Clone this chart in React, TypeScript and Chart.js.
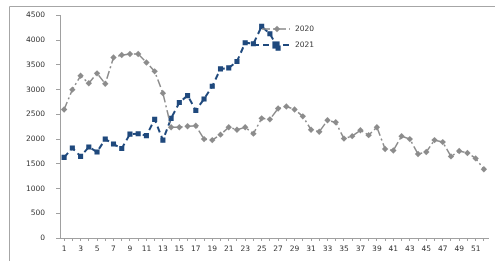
import React, { useEffect, useRef } from "react";
import { Chart, registerables } from "chart.js";

Chart.register(...registerables);

const weeks: string[] = Array.from({ length: 52 }, (_, i) => String(i + 1));

const series2020: number[] = [
  2600, 3000, 3280, 3130, 3330, 3120, 3650, 3700, 3720, 3720,
  3550, 3370, 2930, 2240, 2240, 2260, 2270, 2000, 1980, 2090,
  2240, 2190, 2240, 2110, 2420, 2400, 2620, 2660, 2600, 2460,
  2190, 2150, 2380, 2340, 2010, 2060, 2180, 2080, 2240, 1800,
  1770, 2060, 2000, 1700, 1740, 1980, 1940, 1650, 1760, 1720,
  1610, 1390,
];

const series2021: (number | null)[] = [
  1630, 1820, 1650, 1840, 1740, 2000, 1900, 1810, 2100, 2110,
  2070, 2400, 1980, 2420, 2740, 2880, 2580, 2810, 3070, 3420,
  3440, 3570, 3950, 3930, 4280, 4130, 3840,
];

const seriesNames: string[] = ["2020", "2021"];
const yTicks: number[] = [0, 500, 1000, 1500, 2000, 2500, 3000, 3500, 4000, 4500];

const GRAY = "#8c8c8c";
const BLUE = "#1f497d";
const TEXT = "#333333";
const AXIS = "#a0a0a0";
const FONT = "'DejaVu Sans', Verdana, sans-serif";

const framePlugin = {
  id: "frame",
  beforeDraw(chart: any) {
    const ctx = chart.ctx;
    ctx.save();
    ctx.strokeStyle = "#a6a6a6";
    ctx.lineWidth = 1;
    ctx.beginPath();
    ctx.moveTo(9.5, 261);
    ctx.lineTo(9.5, 6.5);
    ctx.lineTo(495, 6.5);
    ctx.stroke();
    ctx.restore();
  },
};

const legendPlugin = {
  id: "customLegend",
  afterDraw(chart: any) {
    const ctx = chart.ctx;
    const items = [
      { ds: 0, x1: 262, x2: 290, mx: 277, y: 29 },
      { ds: 1, x1: 253, x2: 292, mx: 276, y: 45 },
    ];
    ctx.save();
    items.forEach((it) => {
      const ds = chart.data.datasets[it.ds];
      ctx.strokeStyle = ds.borderColor;
      ctx.lineWidth = ds.borderWidth;
      ctx.setLineDash(ds.borderDash || []);
      ctx.beginPath();
      ctx.moveTo(it.x1, it.y);
      ctx.lineTo(it.x2, it.y);
      ctx.stroke();
      ctx.setLineDash([]);
      ctx.fillStyle = ds.pointBackgroundColor;
      const r = ds.pointRadius;
      ctx.beginPath();
      if (ds.pointStyle === "rectRot") {
        ctx.moveTo(it.mx, it.y - r);
        ctx.lineTo(it.mx + r, it.y);
        ctx.lineTo(it.mx, it.y + r);
        ctx.lineTo(it.mx - r, it.y);
        ctx.closePath();
      } else {
        ctx.rect(it.mx - r, it.y - r, 2 * r, 2 * r);
      }
      ctx.fill();
      ctx.fillStyle = TEXT;
      ctx.font = `7.5px ${FONT}`;
      ctx.textBaseline = "middle";
      ctx.textAlign = "left";
      ctx.fillText(ds.label, 295, it.y);
    });
    ctx.restore();
  },
};

export default function App() {
  const ref = useRef<HTMLCanvasElement | null>(null);

  useEffect(() => {
    if (!ref.current) return;
    const chart = new Chart(ref.current, {
      type: "line",
      data: {
        labels: weeks,
        datasets: [
          {
            label: seriesNames[0],
            data: series2020,
            borderColor: GRAY,
            backgroundColor: GRAY,
            pointBackgroundColor: GRAY,
            pointBorderColor: GRAY,
            borderWidth: 1.5,
            borderDash: [8, 3, 2, 3],
            pointStyle: "rectRot",
            pointRadius: 3.2,
            pointBorderWidth: 0,
            tension: 0,
          },
          {
            label: seriesNames[1],
            data: series2021,
            borderColor: BLUE,
            backgroundColor: BLUE,
            pointBackgroundColor: BLUE,
            pointBorderColor: BLUE,
            borderWidth: 2,
            borderDash: [6, 4],
            pointStyle: "rect",
            pointRadius: 3.6,
            pointBorderWidth: 0,
            tension: 0,
          },
        ] as any,
      },
      options: {
        responsive: false,
        animation: false,
        devicePixelRatio: 1,
        layout: { padding: { left: 0, top: 15, right: 7, bottom: 0 } },
        plugins: {
          legend: { display: false },
          tooltip: { enabled: false },
        },
        scales: {
          x: {
            offset: true,
            grid: {
              display: true,
              drawOnChartArea: false,
              drawTicks: true,
              tickLength: 3,
              color: AXIS,
              offset: false,
            },
            border: { display: true, color: AXIS, width: 1 },
            ticks: {
              autoSkip: false,
              maxRotation: 0,
              minRotation: 0,
              padding: 4,
              color: TEXT,
              font: { family: FONT, size: 7.5 },
              callback: (_v: any, i: number) => (i % 2 === 0 ? weeks[i] : ""),
            },
            afterFit: (s: any) => {
              s.height = 23;
            },
          },
          y: {
            min: 0,
            max: 4500,
            afterBuildTicks: (s: any) => {
              s.ticks = yTicks.map((v) => ({ value: v }));
            },
            grid: {
              display: true,
              drawOnChartArea: false,
              drawTicks: true,
              tickLength: 4,
              color: AXIS,
            },
            border: { display: true, color: AXIS, width: 1 },
            ticks: {
              padding: 11,
              color: TEXT,
              font: { family: FONT, size: 7.5 },
              callback: (v: any) => String(v),
            },
            afterFit: (s: any) => {
              s.width = 60;
            },
          },
        },
      },
      plugins: [framePlugin, legendPlugin],
    });
    return () => chart.destroy();
  }, []);

  return (
    <div
      style={{
        position: "fixed",
        left: 0,
        top: 0,
        width: 495,
        height: 261,
        overflow: "hidden",
        background: "#fff",
      }}
    >
      <canvas ref={ref} width={495} height={261} style={{ display: "block", width: 495, height: 261 }} />
    </div>
  );
}
